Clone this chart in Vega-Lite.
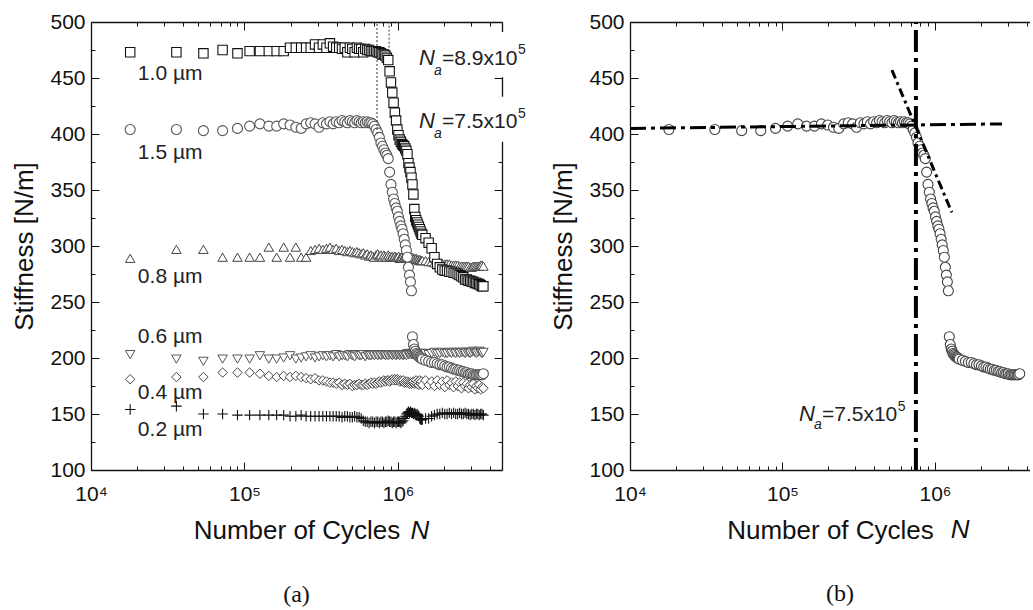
{
"$schema":"https://vega.github.io/schema/vega-lite/v6.json",
"padding":{"left":11,"top":11,"right":0,"bottom":0},
"bounds":"flush",
"spacing":128,
"config":{
 "view":{"stroke":null},
 "font":"Liberation Sans",
 "axis":{"grid":false,"labelFont":"Liberation Sans","labelFontSize":21,"labelColor":"#111","tickColor":"#111","domainColor":"#111","domainWidth":1.3,"tickWidth":1,"titleFont":"Liberation Sans","titleFontSize":26,"titleFontWeight":"normal","titleColor":"#111","labelOverlap":false,"labelFlush":false,"labelBound":false},
 "title":{"font":"Liberation Serif","fontSize":24,"fontWeight":"normal","color":"#111"}
},
"datasets":{
 "main":[
{"N":18000,"a":473,"b":404,"c":289,"d":203,"e":181,"f":154},
{"N":36000,"a":473,"b":404,"c":297,"d":199,"e":183,"f":157},
{"N":54000,"a":472,"b":403,"c":297,"d":197,"e":183,"f":150},
{"N":72000,"a":475,"b":403,"c":290,"d":199,"e":187,"f":150},
{"N":90000,"a":472,"b":405,"c":290,"d":199,"e":187,"f":149},
{"N":108000,"a":474,"b":407,"c":290,"d":199,"e":187,"f":149},
{"N":126000,"a":474,"b":409,"c":290,"d":202,"e":186,"f":149},
{"N":144000,"a":474,"b":407,"c":299,"d":199,"e":184,"f":149},
{"N":162000,"a":474,"b":407,"c":290,"d":199,"e":183,"f":149},
{"N":180000,"a":474,"b":409,"c":299,"d":200,"e":184,"f":149},
{"N":198000,"a":477,"b":408,"c":290,"d":202,"e":183,"f":148},
{"N":216000,"a":477,"b":406,"c":299,"d":199,"e":184,"f":148},
{"N":234000,"a":477,"b":405,"c":290,"d":200,"e":183,"f":149},
{"N":252000,"a":477,"b":409,"c":290,"d":201,"e":182,"f":148},
{"N":270000,"a":477,"b":410,"c":296,"d":202,"e":181,"f":148},
{"N":288000,"a":480,"b":409,"c":297,"d":200,"e":182,"f":148},
{"N":306000,"a":477,"b":406,"c":298,"d":201,"e":180,"f":148},
{"N":324000,"a":480,"b":410,"c":297,"d":202,"e":180,"f":148},
{"N":342000,"a":477,"b":409,"c":298,"d":201,"e":179,"f":148},
{"N":360000,"a":481,"b":411,"c":299,"d":202,"e":178,"f":148},
{"N":378000,"a":478,"b":409,"c":297,"d":201,"e":178,"f":148},
{"N":396000,"a":477,"b":411,"c":298,"d":203,"e":177,"f":148},
{"N":414000,"a":477,"b":410,"c":296,"d":201,"e":178,"f":148},
{"N":432000,"a":476,"b":412,"c":297,"d":202,"e":176,"f":147},
{"N":450000,"a":477,"b":411,"c":296,"d":202,"e":177,"f":148},
{"N":468000,"a":473,"b":410,"c":295,"d":201,"e":176,"f":148},
{"N":486000,"a":477,"b":412,"c":296,"d":203,"e":177,"f":147},
{"N":504000,"a":476,"b":411,"c":295,"d":202,"e":175,"f":147},
{"N":522000,"a":473,"b":410,"c":294,"d":201,"e":176,"f":148},
{"N":540000,"a":477,"b":412,"c":295,"d":203,"e":176,"f":147},
{"N":558000,"a":476,"b":411,"c":294,"d":202,"e":177,"f":147},
{"N":576000,"a":476,"b":410,"c":293,"d":202,"e":176,"f":146},
{"N":594000,"a":473,"b":411,"c":294,"d":203,"e":176,"f":144},
{"N":612000,"a":476,"b":410,"c":292,"d":201,"e":177,"f":143},
{"N":630000,"a":475,"b":411,"c":293,"d":203,"e":176,"f":143},
{"N":648000,"a":475,"b":410,"c":291,"d":202,"e":177,"f":142},
{"N":666000,"a":474,"b":410,"c":292,"d":202,"e":178,"f":143},
{"N":684000,"a":474,"b":409,"c":291,"d":203,"e":177,"f":143},
{"N":702000,"a":474,"b":407,"c":290,"d":202,"e":178,"f":142},
{"N":720000,"a":474,"b":404,"c":292,"d":203,"e":177,"f":143},
{"N":738000,"a":473,"b":401,"c":293,"d":202,"e":178,"f":143},
{"N":756000,"a":473,"b":397,"c":291,"d":203,"e":179,"f":142},
{"N":774000,"a":472,"b":392,"c":292,"d":202,"e":178,"f":143},
{"N":792000,"a":471,"b":389,"c":290,"d":203,"e":179,"f":143},
{"N":810000,"a":471,"b":386,"c":292,"d":203,"e":180,"f":142},
{"N":828000,"a":470,"b":383,"c":291,"d":202,"e":179,"f":143},
{"N":846000,"a":468,"b":381,"c":290,"d":203,"e":180,"f":143},
{"N":864000,"a":466,"b":378,"c":292,"d":202,"e":180,"f":144},
{"N":882000,"a":456,"b":366,"c":291,"d":203,"e":179,"f":143},
{"N":900000,"a":446,"b":355,"c":290,"d":203,"e":180,"f":143},
{"N":918000,"a":437,"b":348,"c":291,"d":202,"e":181,"f":142},
{"N":936000,"a":428,"b":342,"c":290,"d":203,"e":180,"f":143},
{"N":954000,"a":419,"b":338,"c":291,"d":203,"e":181,"f":143},
{"N":972000,"a":412,"b":334,"c":290,"d":202,"e":180,"f":142},
{"N":990000,"a":404,"b":331,"c":290,"d":203,"e":181,"f":143},
{"N":1008000,"a":399,"b":326,"c":291,"d":203,"e":180,"f":143},
{"N":1026000,"a":395,"b":322,"c":289,"d":202,"e":179,"f":143},
{"N":1044000,"a":393,"b":318,"c":290,"d":203,"e":180,"f":142},
{"N":1062000,"a":391,"b":315,"c":290,"d":203,"e":179,"f":143},
{"N":1080000,"a":390,"b":311,"c":289,"d":202,"e":180,"f":144},
{"N":1098000,"a":389,"b":306,"c":290,"d":203,"e":178,"f":146},
{"N":1116000,"a":387,"b":301,"c":290,"d":203,"e":179,"f":148},
{"N":1134000,"a":385,"b":296,"c":289,"d":202,"e":178,"f":150},
{"N":1152000,"a":382,"b":290,"c":290,"d":204,"e":179,"f":151},
{"N":1170000,"a":374,"b":281,"c":290,"d":203,"e":178,"f":152},
{"N":1188000,"a":370,"b":274,"c":289,"d":203,"e":177,"f":151},
{"N":1206000,"a":366,"b":268,"c":290,"d":204,"e":178,"f":152},
{"N":1224000,"a":361,"b":260,"c":289,"d":203,"e":177,"f":151},
{"N":1242000,"a":355,"b":219,"c":290,"d":203,"e":178,"f":151},
{"N":1260000,"a":346,"b":212,"c":289,"d":204,"e":179,"f":150},
{"N":1278000,"a":333,"b":208,"c":289,"d":203,"e":177,"f":151},
{"N":1296000,"a":326,"b":206,"c":288,"d":204,"e":178,"f":150},
{"N":1314000,"a":323,"b":204,"c":289,"d":203,"e":180,"f":149},
{"N":1332000,"a":321,"b":203,"c":288,"d":204,"e":177,"f":150},
{"N":1350000,"a":319,"b":202,"c":288,"d":203,"e":179,"f":149},
{"N":1368000,"a":317,"b":201,"c":287,"d":204,"e":176,"f":148},
{"N":1386000,"a":315,"b":201,"c":288,"d":204,"e":180,"f":146},
{"N":1404000,"a":313,"b":200,"c":287,"d":203,"e":177,"f":145},
{"N":1422000,"a":311,"b":200,"c":287,"d":204,"e":179,"f":145},
{"N":1440000,"a":310,"b":199,"c":287,"d":204,"e":176,"f":145},
{"N":1512000,"a":307,"b":198,"c":287,"d":204,"e":180,"f":146},
{"N":1584000,"a":303,"b":197,"c":286,"d":203,"e":176,"f":146},
{"N":1656000,"a":298,"b":196,"c":286,"d":204,"e":179,"f":148},
{"N":1728000,"a":290,"b":196,"c":285,"d":205,"e":175,"f":149},
{"N":1800000,"a":284,"b":195,"c":285,"d":204,"e":180,"f":150},
{"N":1872000,"a":281,"b":194,"c":285,"d":204,"e":176,"f":150},
{"N":1944000,"a":279,"b":194,"c":284,"d":205,"e":179,"f":151},
{"N":2016000,"a":278,"b":193,"c":284,"d":204,"e":174,"f":150},
{"N":2088000,"a":278,"b":192,"c":284,"d":204,"e":180,"f":150},
{"N":2160000,"a":277,"b":192,"c":284,"d":205,"e":176,"f":151},
{"N":2232000,"a":277,"b":191,"c":283,"d":204,"e":178,"f":150},
{"N":2304000,"a":276,"b":190,"c":283,"d":205,"e":174,"f":151},
{"N":2376000,"a":276,"b":190,"c":283,"d":204,"e":179,"f":150},
{"N":2448000,"a":275,"b":189,"c":283,"d":205,"e":175,"f":150},
{"N":2520000,"a":274,"b":189,"c":282,"d":204,"e":178,"f":151},
{"N":2592000,"a":273,"b":188,"c":282,"d":205,"e":173,"f":150},
{"N":2664000,"a":272,"b":188,"c":282,"d":205,"e":178,"f":150},
{"N":2736000,"a":270,"b":187,"c":282,"d":204,"e":175,"f":151},
{"N":2808000,"a":270,"b":187,"c":282,"d":205,"e":177,"f":150},
{"N":2880000,"a":269,"b":186,"c":282,"d":205,"e":173,"f":150},
{"N":2952000,"a":269,"b":186,"c":281,"d":204,"e":176,"f":149},
{"N":3024000,"a":268,"b":186,"c":281,"d":205,"e":174,"f":150},
{"N":3096000,"a":268,"b":185,"c":282,"d":206,"e":177,"f":150},
{"N":3168000,"a":267,"b":185,"c":282,"d":205,"e":172,"f":149},
{"N":3240000,"a":267,"b":185,"c":282,"d":204,"e":175,"f":150},
{"N":3312000,"a":266,"b":185,"c":282,"d":205,"e":173,"f":150},
{"N":3384000,"a":266,"b":185,"c":282,"d":206,"e":176,"f":149},
{"N":3456000,"a":265,"b":185,"c":283,"d":205,"e":172,"f":150},
{"N":3528000,"a":264,"b":185,"c":283,"d":204,"e":174,"f":150},
{"N":3600000,"a":264,"b":186,"c":282,"d":205,"e":173,"f":149}
 ],
 "labels":[
  {"N":20200,"S":448,"t":"1.0 µm"},
  {"N":20200,"S":377.5,"t":"1.5 µm"},
  {"N":20200,"S":267,"t":"0.8 µm"},
  {"N":20200,"S":213.5,"t":"0.6 µm"},
  {"N":20200,"S":163,"t":"0.4 µm"},
  {"N":20200,"S":130,"t":"0.2 µm"}
 ],
 "drules":[{"N":730000,"S":400,"S2":500},{"N":875000,"S":470,"S2":500}],
 "boxes":[{"N":1330000,"N2":7000000,"S":491,"S2":450.6},{"N":1330000,"N2":7000000,"S":433.3,"S2":393}],
 "laN":[{"N":1370000,"S":462,"t":"N"},{"N":1370000,"S":405.6,"t":"N"}],
 "laSub":[{"N":1716000,"S":453,"t":"a"},{"N":1716000,"S":396.7,"t":"a"}],
 "laTxt":[{"N":1935000,"S":462,"t":"=8.9x10"},{"N":1935000,"S":405.6,"t":"=7.5x10"}],
 "laSup":[{"N":6050000,"S":471,"t":"5"},{"N":6050000,"S":414,"t":"5"}],
 "axN_L":[{"N":1205000,"S":38.3,"t":"N"}],
 "axN_R":[{"N":1268000,"S":39.2,"t":"N"}],
 "rbN":[{"N":128200,"S":144,"t":"N"}],
 "rbSub":[{"N":160900,"S":136.8,"t":"a"}],
 "rbTxt":[{"N":181500,"S":144,"t":"=7.5x10"}],
 "rbSup":[{"N":571000,"S":153,"t":"5"}],
 "hline":[{"N":10000,"S":405},{"N":2750000,"S":409}],
 "sline":[{"N":522000,"S":457},{"N":1290000,"S":330}],
 "vline":[{"N":750000,"S":100,"S2":499}]
},
"hconcat":[
{
 "width":411,"height":448,
 "title":{"text":"(a)","orient":"bottom","offset":39},
 "resolve":{"axis":{"x":"independent","y":"independent"}},
 "layer":[
  {"data":{"name":"main"},
   "mark":{"type":"point","shape":"M-1,0H1M0,-1V1","size":110,"stroke":"#111","strokeWidth":1.1,"fill":"#fff","opacity":1},
   "encoding":{
    "x":{"field":"N","type":"quantitative","scale":{"type":"log","domain":[10000,4760000],"nice":false},
     "axis":{"orient":"bottom","values":[10000,20000,30000,40000,50000,60000,70000,80000,90000,100000,200000,300000,400000,500000,600000,700000,800000,900000,1000000,2000000,3000000,4000000],
      "labelExpr":"datum.value==10000?'10⁴':datum.value==100000?'10⁵':datum.value==1000000?'10⁶':''",
      "tickSize":{"condition":{"test":"datum.value==10000||datum.value==100000||datum.value==1000000","value":-8},"value":-4},
      "labelPadding":21,"title":"Number of Cycles","titlePadding":9}},
    "y":{"field":"f","type":"quantitative","scale":{"domain":[100,500],"nice":false,"zero":false},
     "axis":{"orient":"left","values":[100,125,150,175,200,225,250,275,300,325,350,375,400,425,450,475,500],
      "labelExpr":"datum.value % 50 == 0 ? datum.label : ''",
      "tickSize":{"condition":{"test":"datum.value % 50 == 0","value":-8},"value":-4},
      "labelPadding":14,"title":"Stiffness [N/m]","titlePadding":12}}}},
  {"data":{"name":"main"},
   "mark":{"type":"point","shape":"diamond","size":90,"stroke":"#444","strokeWidth":1,"fill":"#fff","opacity":1},
   "encoding":{"x":{"field":"N","type":"quantitative","scale":{"type":"log","domain":[10000,4760000],"nice":false},"axis":null},
    "y":{"field":"e","type":"quantitative","scale":{"domain":[100,500],"nice":false,"zero":false},"axis":null}}},
  {"data":{"name":"main"},
   "mark":{"type":"point","shape":"triangle-down","size":90,"stroke":"#555","strokeWidth":1,"fill":"#fff","opacity":1},
   "encoding":{"x":{"field":"N","type":"quantitative","scale":{"type":"log","domain":[10000,4760000],"nice":false},"axis":null},
    "y":{"field":"d","type":"quantitative","scale":{"domain":[100,500],"nice":false,"zero":false},"axis":null}}},
  {"data":{"name":"main"},
   "mark":{"type":"point","shape":"triangle-up","size":90,"stroke":"#444","strokeWidth":1,"fill":"#fff","opacity":1},
   "encoding":{"x":{"field":"N","type":"quantitative","scale":{"type":"log","domain":[10000,4760000],"nice":false},"axis":null},
    "y":{"field":"c","type":"quantitative","scale":{"domain":[100,500],"nice":false,"zero":false},"axis":null}}},
  {"data":{"name":"main"},
   "mark":{"type":"point","shape":"square","size":88,"stroke":"#111","strokeWidth":1.1,"fill":"#fff","opacity":1},
   "encoding":{"x":{"field":"N","type":"quantitative","scale":{"type":"log","domain":[10000,4760000],"nice":false},"axis":null},
    "y":{"field":"a","type":"quantitative","scale":{"domain":[100,500],"nice":false,"zero":false},"axis":null}}},
  {"data":{"name":"main"},
   "mark":{"type":"point","shape":"circle","size":100,"stroke":"#555","strokeWidth":1.1,"fill":"#fff","opacity":1},
   "encoding":{"x":{"field":"N","type":"quantitative","scale":{"type":"log","domain":[10000,4760000],"nice":false},"axis":null},
    "y":{"field":"b","type":"quantitative","scale":{"domain":[100,500],"nice":false,"zero":false},"axis":null}}},
  {"data":{"name":"drules"},
   "mark":{"type":"rule","strokeDash":[2,2],"strokeWidth":1,"color":"#333"},
   "encoding":{
    "x":{"field":"N","type":"quantitative","scale":{"type":"log","domain":[10000,4760000],"nice":false},
     "axis":{"orient":"top","values":[10000,20000,30000,40000,50000,60000,70000,80000,90000,100000,200000,300000,400000,500000,600000,700000,800000,900000,1000000,2000000,3000000,4000000],
      "labels":false,"title":null,
      "tickSize":{"condition":{"test":"datum.value==10000||datum.value==100000||datum.value==1000000","value":-8},"value":-4}}},
    "y":{"field":"S","type":"quantitative","scale":{"domain":[100,500],"nice":false,"zero":false},
     "axis":{"orient":"right","values":[100,125,150,175,200,225,250,275,300,325,350,375,400,425,450,475,500],
      "labels":false,"title":null,
      "tickSize":{"condition":{"test":"datum.value % 50 == 0","value":-8},"value":-4}}},
    "y2":{"field":"S2"}}},
  {"data":{"name":"boxes"},
   "mark":{"type":"rect","fill":"#fff","stroke":null},
   "encoding":{"x":{"field":"N","type":"quantitative","scale":{"type":"log","domain":[10000,4760000],"nice":false},"axis":null},"x2":{"field":"N2"},
    "y":{"field":"S","type":"quantitative","scale":{"domain":[100,500],"nice":false,"zero":false},"axis":null},"y2":{"field":"S2"}}},
  {"data":{"name":"labels"},
   "mark":{"type":"text","align":"left","baseline":"alphabetic","fontSize":21,"color":"#222","font":"Liberation Sans"},
   "encoding":{"x":{"field":"N","type":"quantitative","scale":{"type":"log","domain":[10000,4760000],"nice":false},"axis":null},
    "y":{"field":"S","type":"quantitative","scale":{"domain":[100,500],"nice":false,"zero":false},"axis":null},"text":{"field":"t"}}},
  {"data":{"name":"laN"},
   "mark":{"type":"text","align":"left","baseline":"alphabetic","fontSize":22,"fontStyle":"italic","color":"#222","font":"Liberation Sans"},
   "encoding":{"x":{"field":"N","type":"quantitative","scale":{"type":"log","domain":[10000,4760000],"nice":false},"axis":null},
    "y":{"field":"S","type":"quantitative","scale":{"domain":[100,500],"nice":false,"zero":false},"axis":null},"text":{"field":"t"}}},
  {"data":{"name":"laSub"},
   "mark":{"type":"text","align":"left","baseline":"alphabetic","fontSize":14,"fontStyle":"italic","color":"#222","font":"Liberation Sans"},
   "encoding":{"x":{"field":"N","type":"quantitative","scale":{"type":"log","domain":[10000,4760000],"nice":false},"axis":null},
    "y":{"field":"S","type":"quantitative","scale":{"domain":[100,500],"nice":false,"zero":false},"axis":null},"text":{"field":"t"}}},
  {"data":{"name":"laTxt"},
   "mark":{"type":"text","align":"left","baseline":"alphabetic","fontSize":21,"color":"#222","font":"Liberation Sans"},
   "encoding":{"x":{"field":"N","type":"quantitative","scale":{"type":"log","domain":[10000,4760000],"nice":false},"axis":null},
    "y":{"field":"S","type":"quantitative","scale":{"domain":[100,500],"nice":false,"zero":false},"axis":null},"text":{"field":"t"}}},
  {"data":{"name":"laSup"},
   "mark":{"type":"text","align":"left","baseline":"alphabetic","fontSize":14,"color":"#222","font":"Liberation Sans"},
   "encoding":{"x":{"field":"N","type":"quantitative","scale":{"type":"log","domain":[10000,4760000],"nice":false},"axis":null},
    "y":{"field":"S","type":"quantitative","scale":{"domain":[100,500],"nice":false,"zero":false},"axis":null},"text":{"field":"t"}}},
  {"data":{"name":"axN_L"},
   "mark":{"type":"text","align":"left","baseline":"alphabetic","fontSize":26,"fontStyle":"italic","color":"#111","font":"Liberation Sans"},
   "encoding":{"x":{"field":"N","type":"quantitative","scale":{"type":"log","domain":[10000,4760000],"nice":false},"axis":null},
    "y":{"field":"S","type":"quantitative","scale":{"domain":[100,500],"nice":false,"zero":false},"axis":null},"text":{"field":"t"}}}
 ]
},
{
 "width":400,"height":448,
 "title":{"text":"(b)","orient":"bottom","offset":39,"dx":10},
 "resolve":{"axis":{"x":"independent","y":"independent"}},
 "layer":[
  {"data":{"name":"main"},
   "mark":{"type":"point","shape":"circle","size":100,"stroke":"#444","strokeWidth":1.1,"fill":"#fff","opacity":1},
   "encoding":{
    "x":{"field":"N","type":"quantitative","scale":{"type":"log","domain":[10000,4200000],"nice":false},
     "axis":{"orient":"bottom","values":[10000,20000,30000,40000,50000,60000,70000,80000,90000,100000,200000,300000,400000,500000,600000,700000,800000,900000,1000000,2000000,3000000,4000000],
      "labelExpr":"datum.value==10000?'10⁴':datum.value==100000?'10⁵':datum.value==1000000?'10⁶':''",
      "tickSize":{"condition":{"test":"datum.value==10000||datum.value==100000||datum.value==1000000","value":-8},"value":-4},
      "labelPadding":21,"title":"Number of Cycles","titlePadding":9}},
    "y":{"field":"b","type":"quantitative","scale":{"domain":[100,500],"nice":false,"zero":false},
     "axis":{"orient":"left","values":[100,125,150,175,200,225,250,275,300,325,350,375,400,425,450,475,500],
      "labelExpr":"datum.value % 50 == 0 ? datum.label : ''",
      "tickSize":{"condition":{"test":"datum.value % 50 == 0","value":-8},"value":-4},
      "labelPadding":14,"title":"Stiffness [N/m]","titlePadding":12}}}},
  {"data":{"name":"hline"},
   "mark":{"type":"line","strokeDash":[16,5,4,5],"strokeWidth":3,"color":"#000"},
   "encoding":{
    "x":{"field":"N","type":"quantitative","scale":{"type":"log","domain":[10000,4200000],"nice":false},
     "axis":{"orient":"top","values":[10000,20000,30000,40000,50000,60000,70000,80000,90000,100000,200000,300000,400000,500000,600000,700000,800000,900000,1000000,2000000,3000000,4000000],
      "labels":false,"title":null,
      "tickSize":{"condition":{"test":"datum.value==10000||datum.value==100000||datum.value==1000000","value":-8},"value":-4}}},
    "y":{"field":"S","type":"quantitative","scale":{"domain":[100,500],"nice":false,"zero":false},"axis":null}}},
  {"data":{"name":"sline"},
   "mark":{"type":"line","strokeDash":[9,4,3,4],"strokeWidth":3,"color":"#000"},
   "encoding":{"x":{"field":"N","type":"quantitative","scale":{"type":"log","domain":[10000,4200000],"nice":false},"axis":null},
    "y":{"field":"S","type":"quantitative","scale":{"domain":[100,500],"nice":false,"zero":false},"axis":null}}},
  {"data":{"name":"vline"},
   "mark":{"type":"rule","strokeDash":[22,6,4,6],"strokeWidth":4,"color":"#000"},
   "encoding":{"x":{"field":"N","type":"quantitative","scale":{"type":"log","domain":[10000,4200000],"nice":false},"axis":null},
    "y":{"field":"S","type":"quantitative","scale":{"domain":[100,500],"nice":false,"zero":false},"axis":null},"y2":{"field":"S2"}}},
  {"data":{"name":"rbN"},
   "mark":{"type":"text","align":"left","baseline":"alphabetic","fontSize":22,"fontStyle":"italic","color":"#222","font":"Liberation Sans"},
   "encoding":{"x":{"field":"N","type":"quantitative","scale":{"type":"log","domain":[10000,4200000],"nice":false},"axis":null},
    "y":{"field":"S","type":"quantitative","scale":{"domain":[100,500],"nice":false,"zero":false},"axis":null},"text":{"field":"t"}}},
  {"data":{"name":"rbSub"},
   "mark":{"type":"text","align":"left","baseline":"alphabetic","fontSize":14,"fontStyle":"italic","color":"#222","font":"Liberation Sans"},
   "encoding":{"x":{"field":"N","type":"quantitative","scale":{"type":"log","domain":[10000,4200000],"nice":false},"axis":null},
    "y":{"field":"S","type":"quantitative","scale":{"domain":[100,500],"nice":false,"zero":false},"axis":null},"text":{"field":"t"}}},
  {"data":{"name":"rbTxt"},
   "mark":{"type":"text","align":"left","baseline":"alphabetic","fontSize":21,"color":"#222","font":"Liberation Sans"},
   "encoding":{"x":{"field":"N","type":"quantitative","scale":{"type":"log","domain":[10000,4200000],"nice":false},"axis":null},
    "y":{"field":"S","type":"quantitative","scale":{"domain":[100,500],"nice":false,"zero":false},"axis":null},"text":{"field":"t"}}},
  {"data":{"name":"rbSup"},
   "mark":{"type":"text","align":"left","baseline":"alphabetic","fontSize":14,"color":"#222","font":"Liberation Sans"},
   "encoding":{"x":{"field":"N","type":"quantitative","scale":{"type":"log","domain":[10000,4200000],"nice":false},"axis":null},
    "y":{"field":"S","type":"quantitative","scale":{"domain":[100,500],"nice":false,"zero":false},"axis":null},"text":{"field":"t"}}},
  {"data":{"name":"axN_R"},
   "mark":{"type":"text","align":"left","baseline":"alphabetic","fontSize":26,"fontStyle":"italic","color":"#111","font":"Liberation Sans"},
   "encoding":{"x":{"field":"N","type":"quantitative","scale":{"type":"log","domain":[10000,4200000],"nice":false},"axis":null},
    "y":{"field":"S","type":"quantitative","scale":{"domain":[100,500],"nice":false,"zero":false},"axis":null},"text":{"field":"t"}}}
 ]
}
]
}
